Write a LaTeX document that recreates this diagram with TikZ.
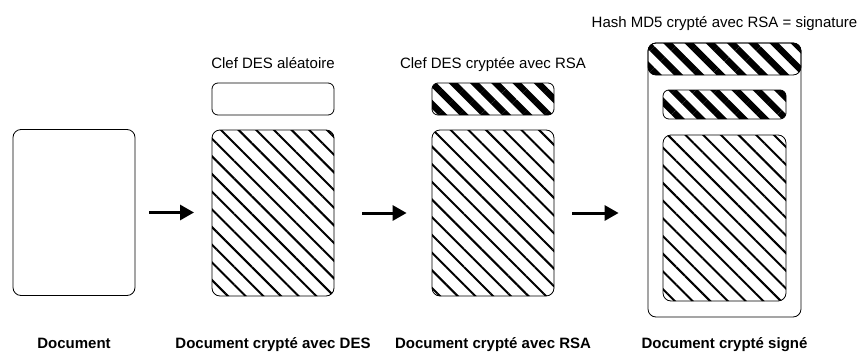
\documentclass[tikz,border=0pt]{standalone}
\usepackage{fontspec}
\setmainfont{Liberation Sans}
\usetikzlibrary{arrows.meta, positioning, patterns.meta}

\begin{document}
\begin{tikzpicture}[
    x=1pt, y=-1pt,
    box/.style={draw, line width=0.8pt, rounded corners=8pt, inner sep=0pt},
    doc/.style={box, minimum width=122pt, minimum height=166pt},
    crypt/.style={pattern={Lines[angle=-45, distance=12.5pt, line width=2pt]}},
    key/.style={box, rounded corners=6pt, minimum width=122pt, minimum height=32pt},
    rsa/.style={pattern={Lines[angle=-45, distance=15pt, line width=6.5pt]}},
    caption/.style={font=\fontsize{15}{18}\selectfont\bfseries, anchor=base},
    keylabel/.style={font=\fontsize{15}{18}\selectfont, anchor=base},
    flow/.style={-{Triangle[length=14pt, width=15pt]}, line width=3pt},
]
\useasboundingbox (0,0) rectangle (862,351);

% ---- document clair ----
\node[doc] (doc1) at (74,212.5) {};

% ---- chiffrement DES ----
\node[doc, crypt] (doc2) at (273,213) {};
\node[key] (key2) at (273,99) {};
\node[keylabel] (lbl2) at (273,68) {Clef DES aléatoire};

% ---- clef chiffree avec RSA ----
\node[doc, crypt] (doc3) at (493,213) {};
\node[key, rsa] (key3) at (493,99) {};
\node[keylabel] (lbl3) at (493,68) {Clef DES cryptée avec RSA};

% ---- document signe ----
\node[box, minimum width=153pt, minimum height=274pt] (outer4) at (724.5,180) {};
\node[box, rsa, minimum width=153pt, minimum height=32pt] (sig4) at (724.5,59) {};
\node[key, rsa, minimum width=123pt, minimum height=29pt] (key4) at (724.5,104.5) {};
\node[doc, crypt, minimum width=123pt] (doc4) at (724.5,218) {};
\node[keylabel] (lbl4) at (724.5,27) {Hash MD5 crypté avec RSA = signature};

% ---- etapes ----
\foreach \a/\b/\s/\e in {doc1/doc2/14/17, doc2/doc3/27/25, doc3/outer4/18/29}
    \draw[flow, shorten <=\s pt, shorten >=\e pt] (\a.east) -- (\a.east -| \b.west);

% ---- legendes ----
\foreach \x/\t [count=\i] in {74/Document, 273/Document crypté avec DES,
    493/Document crypté avec RSA, 724.5/Document crypté signé}
    \node[caption] (cap\i) at (\x,348) {\t};

\end{tikzpicture}
\end{document}
